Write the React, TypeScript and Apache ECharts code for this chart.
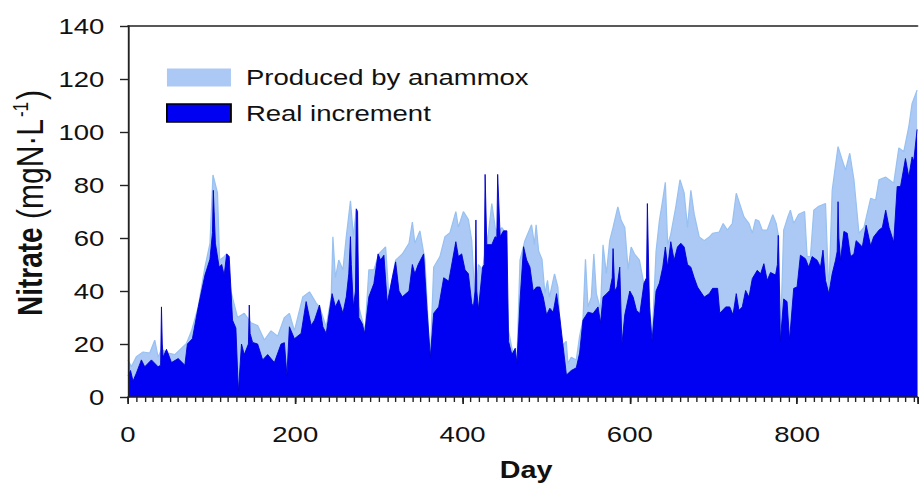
import React, { useEffect, useRef } from "react";
import * as echarts from "echarts";

// The reference image is horizontally stretched; we draw at a narrower width and stretch it back.
const S = 1.25;
const W = 921 / S;
const FONT = '"Liberation Sans", Arial, sans-serif';

const LIGHT = "#abc9f4";
const LIGHT_EDGE = "#98c1f1";
const DARK = "#0000f2";
const DARK_EDGE = "#0000d2";

const seriesNames = ["Produced by anammox", "Real increment"];

// [day, nitrate mgN/L]
const producedByAnammox: [number, number][] = [
  [0, 14], [4, 11.4], [10, 15.2], [18, 17], [26, 16.6], [32, 21.5], [36, 15], [40, 18], [48, 16.6], [56, 16],
  [70, 20.3], [76, 25], [84, 34], [92, 49], [98, 58], [101.6, 83.8], [107, 77], [109.5, 51.7], [115, 53], [118, 54],
  [123, 40], [131, 30], [139, 31.6], [147, 28], [155, 27], [163, 21.5], [171, 25], [179, 23], [187, 30], [193, 31.6],
  [199, 25], [209, 37.8], [217, 39.7], [225, 35.5], [229, 34], [237, 26.5], [243, 37.8], [245, 60.5], [248, 45], [252, 51.7],
  [257, 48], [261, 60.5], [266, 74], [269.5, 60.5], [273, 71], [276, 34], [280, 29], [283.5, 25], [288, 48], [294, 48],
  [300, 54], [308, 56.7], [312, 37.8], [320, 51.7], [328, 54], [336, 58], [340, 66], [343, 58], [349, 62.7], [355, 51.7],
  [359.5, 24], [361.5, 15.2], [365.5, 49], [373, 53], [379, 60.5], [385, 62], [392, 70], [395, 64], [401, 70], [407, 67],
  [411, 59], [415, 35.4], [419, 50], [424, 48], [427, 55], [431, 62], [435, 73], [439, 64], [442, 62], [447, 64],
  [451, 62], [455, 25], [459, 18.4], [465, 12.7], [468.7, 51.7], [474.6, 59], [482.5, 65], [486, 57.5], [488, 65], [491, 55],
  [495, 52], [498.5, 39], [501.6, 44], [504, 37.7], [510, 46.5], [514, 41.5], [518, 19], [524, 21], [526, 12.7], [530, 15],
  [536, 14], [540, 23], [544, 29], [547, 52], [550, 34], [554, 37.7], [557, 54], [560, 39], [565, 33], [568, 57.4],
  [572, 46.5], [576, 59], [580, 64], [585.7, 71.8], [589.7, 66.6], [594, 64], [598, 48], [601.6, 56.6], [605.6, 54], [611.5, 51.7],
  [617.5, 41.5], [620.6, 45], [623, 39], [626.6, 21.5], [631.4, 55], [635.4, 66.6], [639.4, 74.4], [642.5, 81], [645.3, 57.5], [649, 61.4],
  [655, 71.8], [660, 82], [665, 77], [669, 64], [673, 78], [677, 69], [683, 60.4], [689, 59], [695, 60.4], [699, 61.8],
  [707, 62.3], [711.6, 65.5], [716.6, 63], [722.6, 65.5], [727.3, 76.9], [732.5, 71.8], [736.5, 68], [742.5, 65.5], [746.5, 61.8], [750.4, 67],
  [754.4, 66.4], [758.4, 63], [764.3, 63], [771, 68.8], [775, 65.5], [778, 60.4], [780, 21.5], [784, 63], [789, 68], [792, 70.5],
  [796, 65.5], [802, 69], [809, 70], [812, 53], [816, 53], [820, 70.5], [826, 72], [834, 73], [838, 39], [842, 78],
  [849, 94.5], [854, 89.4], [858, 85.6], [863, 92], [868, 82], [874, 61.8], [880, 64], [888, 75], [894, 74.3], [898, 82],
  [906, 83], [915.6, 80.7], [921.7, 94], [927.6, 92.6], [933.6, 102], [937.5, 110.7], [943.5, 115.8], [944, 116],
];

const realIncrement: [number, number][] = [
  [0, 8], [3, 10], [6, 6], [10, 9], [16, 14], [20, 11.4], [28, 14], [36, 11.4], [39, 12], [40, 34],
  [41, 20], [42, 15], [46, 18], [52, 13], [60, 14.5], [68, 12], [71, 20], [77, 22], [84, 34], [92, 46],
  [98, 52], [101, 62], [102, 78], [103, 70], [104.5, 58], [109, 49], [112, 50], [115, 46], [118, 54], [121, 53],
  [125, 29], [129, 26], [132, 2], [135.7, 20], [139, 16], [144, 20], [145, 34.7], [146, 24], [149, 20.6], [155, 20],
  [161, 14], [167, 16], [175, 13], [183, 20], [187, 20.5], [190, 8.2], [193, 26.5], [199, 22], [207, 24], [213, 36],
  [219, 27], [223, 29], [229, 34.7], [233, 26.5], [237, 24], [244, 39], [248, 34], [252, 36.7], [257, 31.6], [261, 37.8],
  [264, 46.5], [266, 60.5], [267, 50], [269.5, 34], [272, 40], [273, 71], [274.5, 70], [276, 30], [280, 27.7], [283, 24],
  [288, 37.8], [294, 42.8], [299, 54], [302, 51.7], [306, 53.5], [310, 35.4], [316, 45], [320, 51], [324, 40], [328, 37.8],
  [336, 40], [340, 50], [343, 46.5], [347, 50], [353.5, 54], [357.5, 33], [361.5, 15], [365.5, 31.6], [371.5, 34], [377.5, 45],
  [383.5, 43.7], [392, 58.6], [395, 53], [399, 54], [403, 48], [407, 46.5], [411, 35.4], [413, 34], [415, 40], [416, 66.8],
  [417, 40], [419, 33], [424, 49], [426, 50], [427, 84], [428, 84], [429, 57.5], [435, 57.5], [439, 60.5], [441, 60],
  [442, 84], [443, 84], [445, 60.5], [449, 62.7], [453, 62.7], [455, 21], [459, 16], [463, 18.4], [465, 12.7], [469, 37.7],
  [473, 56.7], [476.6, 51.7], [480.6, 49], [484.5, 40], [488.5, 41.5], [492.5, 41.5], [496.5, 37.7], [500.5, 31], [504.4, 33.5], [508.4, 32],
  [512.4, 39], [516.3, 30], [520.3, 19], [524.2, 8.3], [530, 10], [536, 11], [540, 16.6], [544, 29], [550, 32], [556, 31.5],
  [562, 34], [565, 28], [568, 37.7], [572, 38.9], [576, 40.2], [579, 45], [580, 56], [582, 40], [584.7, 41.5], [588, 49],
  [590.6, 20], [594, 31], [600, 40], [604, 37.7], [608, 32.7], [612, 31.5], [617, 43], [620, 45], [621, 73], [622, 73],
  [623.5, 34], [626.6, 21], [631.4, 40], [635.4, 43], [639.4, 49], [642.5, 56.6], [645.3, 49], [649, 58.6], [653, 51.6], [657, 56.6],
  [661, 58], [665, 56.6], [669, 50], [673, 49], [677, 45], [681, 41.5], [685, 39.6], [689, 37.7], [695, 39], [699, 41],
  [705, 41], [707.6, 31.6], [714.7, 34], [719.5, 34], [723.4, 31], [727.3, 39], [730.5, 32.7], [734.5, 34], [738.5, 40.2], [742.5, 37.7],
  [746.5, 44.7], [752.4, 47.8], [756.4, 46.5], [760.3, 50.3], [764.3, 44], [768.3, 47], [774.3, 46], [776.5, 50], [777.5, 61], [779, 40],
  [780, 21], [784, 37], [788, 36], [791, 21.5], [796, 41], [800, 41.5], [804, 53.5], [810, 52.2], [814, 49], [818, 53],
  [824, 51.6], [828, 49], [831, 55.4], [834, 44], [838, 39], [842, 46.5], [846, 51.6], [848, 55], [849, 73.7], [850, 60],
  [852, 51.6], [856, 62.5], [860, 61.8], [864, 53], [868, 54], [870.6, 59], [874, 58], [878, 56.6], [882.6, 64.8], [888, 57],
  [891.5, 60.4], [898, 63], [902, 64], [906, 70.5], [910, 64], [915.6, 58.4], [919.7, 79.4], [923.7, 79.4], [929.6, 90], [933.6, 83],
  [937.5, 90.6], [939.5, 89], [943.5, 101], [944, 101],
];

const X_MIN = 0;
const X_MAX = 944;
const X_MAJOR = 200;
const X_MINOR = 10;
const Y_MIN = 0;
const Y_MAX = 140;
const Y_STEP = 20;

const yTitleBold = "Nitrate";
const yTitleUnit = " (mgN·L";
const yTitleSup = "-1";
const xTitle = "Day";

export default function App() {
  const ref = useRef<HTMLDivElement>(null);

  useEffect(() => {
    if (!ref.current) return;
    const chart = echarts.init(ref.current, null, { renderer: "svg" });
    const axisLine = { show: true, lineStyle: { color: "#222", width: 1.5 } };
    chart.setOption({
      animation: false,
      backgroundColor: "#fff",
      textStyle: { fontFamily: FONT },
      grid: { left: 128 / S, right: 0, top: 26, bottom: 90, containLabel: false },
      legend: {
        orient: "vertical",
        left: 166 / S,
        top: 66.5,
        padding: 0,
        itemWidth: 64 / S,
        itemHeight: 18,
        itemGap: 13.5,
        selectedMode: false,
        textStyle: { fontSize: 22, color: "#111", fontFamily: FONT, padding: [0, 0, 0, 15 / S - 5] },
        data: [
          { name: seriesNames[0], icon: "rect", itemStyle: { color: LIGHT, borderWidth: 0 } },
          { name: seriesNames[1], icon: "rect", itemStyle: { color: DARK, borderColor: "#000", borderWidth: 1.5 } },
        ],
      },
      xAxis: [
        {
          type: "value", min: X_MIN, max: X_MAX, interval: X_MAJOR, position: "bottom", z: 5,
          axisLine,
          axisTick: { show: true, length: 7, lineStyle: { color: "#222", width: 1.4 } },
          axisLabel: {
            fontSize: 22, color: "#111", fontFamily: FONT, margin: 26,
            formatter: (v: number) => (v % X_MAJOR === 0 ? String(v) : ""),
          },
          splitLine: { show: false },
        },
        {
          type: "value", min: X_MIN, max: X_MAX, interval: X_MINOR, position: "bottom", z: 5,
          axisLine: { show: false },
          axisTick: { show: true, length: 5, lineStyle: { color: "#222", width: 1.1 } },
          axisLabel: { show: false },
          splitLine: { show: false },
        },
        {
          type: "value", min: X_MIN, max: X_MAX, position: "top", z: 5,
          axisLine,
          axisTick: { show: false },
          axisLabel: { show: false },
          splitLine: { show: false },
        },
      ],
      yAxis: {
        type: "value", min: Y_MIN, max: Y_MAX, interval: Y_STEP, z: 5,
        axisLine,
        axisTick: { show: true, length: 8 / S, lineStyle: { color: "#222", width: 1.4 } },
        axisLabel: { fontSize: 22, color: "#111", fontFamily: FONT, margin: 19 },
        splitLine: { show: false },
      },
      series: [
        {
          name: seriesNames[0], type: "line", data: producedByAnammox, xAxisIndex: 0, yAxisIndex: 0,
          showSymbol: false, symbol: "none", z: 2,
          lineStyle: { color: LIGHT_EDGE, width: 1 },
          itemStyle: { color: LIGHT },
          areaStyle: { color: LIGHT, opacity: 1 },
        },
        {
          name: seriesNames[1], type: "line", data: realIncrement, xAxisIndex: 0, yAxisIndex: 0,
          showSymbol: false, symbol: "none", z: 3,
          lineStyle: { color: DARK_EDGE, width: 0.8 },
          itemStyle: { color: DARK },
          areaStyle: { color: DARK, opacity: 1 },
        },
      ],
      graphic: [
        {
          type: "text", x: 30 / S, y: 203, rotation: Math.PI / 2, z: 10,
          style: {
            text: `{b|${yTitleBold}}{n|${yTitleUnit}}{s|${yTitleSup}}{n|)}`,
            align: "center", verticalAlign: "middle", fill: "#111",
            rich: {
              b: { fontSize: 28, fontWeight: "bold", fontFamily: FONT, fill: "#111", lineHeight: 31 },
              n: { fontSize: 30, fontFamily: FONT, fill: "#111", lineHeight: 31 },
              s: { fontSize: 17, fontFamily: FONT, fill: "#111", verticalAlign: "top", lineHeight: 17, padding: [0, 2, 0, 2] },
            },
          },
        },
        {
          type: "text", x: 526 / S, y: 470, z: 10,
          style: { text: xTitle, font: `bold 23px ${FONT}`, fill: "#111", align: "center", verticalAlign: "middle" },
        },
      ],
    });
    return () => chart.dispose();
  }, []);

  return (
    <div
      ref={ref}
      style={{
        position: "fixed", left: 0, top: 0, width: W, height: 487,
        transform: `scaleX(${S})`, transformOrigin: "0 0", background: "#fff",
      }}
    />
  );
}
